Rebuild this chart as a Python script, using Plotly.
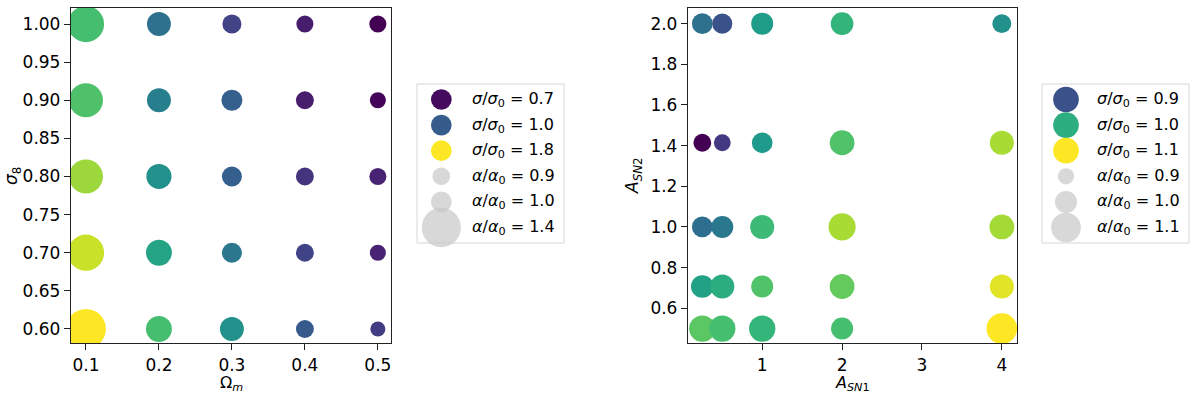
import numpy as np
import plotly.graph_objects as go

# ---------------- data ----------------
omega_m = [0.1, 0.2, 0.3, 0.4, 0.5]
sigma_8 = [1.0, 0.9, 0.8, 0.7, 0.6]
# rows follow sigma_8, columns follow omega_m
left_sigma_ratio = [
    [1.46, 1.09, 0.90, 0.76, 0.67],
    [1.48, 1.16, 1.01, 0.76, 0.68],
    [1.63, 1.24, 1.01, 0.84, 0.78],
    [1.71, 1.33, 1.12, 0.90, 0.78],
    [1.80, 1.46, 1.24, 0.99, 0.87],
]
left_alpha_ratio = [
    [1.35, 1.09, 0.95, 0.88, 0.88],
    [1.31, 1.09, 1.01, 0.91, 0.84],
    [1.31, 1.12, 0.98, 0.91, 0.88],
    [1.35, 1.14, 0.98, 0.91, 0.84],
    [1.41, 1.14, 1.09, 0.91, 0.80],
]

a_sn1 = [0.25, 0.5, 1, 2, 4]
a_sn2 = [2.0, 1.414, 1.0, 0.707, 0.5]
right_sigma_ratio = [
    [0.932, 0.900, 0.980, 1.007, 0.967],
    [0.833, 0.878, 0.977, 1.025, 1.065],
    [0.929, 0.940, 1.015, 1.065, 1.063],
    [0.985, 0.999, 1.025, 1.036, 1.089],
    [1.031, 1.020, 1.009, 1.020, 1.100],
]
right_alpha_ratio = [
    [0.98, 0.97, 1.00, 1.01, 0.95],
    [0.93, 0.91, 0.98, 1.04, 1.03],
    [0.98, 1.00, 1.03, 1.07, 1.04],
    [1.01, 1.03, 1.00, 1.04, 1.03],
    [1.06, 1.06, 1.06, 1.00, 1.11],
]

left_legend_sigma = [0.7, 1.0, 1.8]
left_legend_alpha = [0.9, 1.0, 1.4]
right_legend_sigma = [0.9, 1.0, 1.1]
right_legend_alpha = [0.9, 1.0, 1.1]

# ---------------- styling ----------------
W, H = 1200, 395
FONT = "DejaVu Sans"
FS = 16
GREY = "#c8c8c8"
CSCALE = "Viridis"
LEFT_CRANGE = (0.67, 1.80)
RIGHT_CRANGE = (0.833, 1.10)


def left_size(a):
    return 20.7 * np.exp(1.6 * (np.asarray(a, float) - 1.0))


def right_size(a):
    return 22.0 * np.exp(3.0 * (np.asarray(a, float) - 1.0))


def grid(xs, ys, vals):
    X, Y, V = [], [], []
    for i, yv in enumerate(ys):
        for j, xv in enumerate(xs):
            X.append(xv)
            Y.append(yv)
            V.append(vals[i][j])
    return X, Y, V


fig = go.Figure()

# left panel
lx, ly, lc = grid(omega_m, sigma_8, left_sigma_ratio)
_, _, la = grid(omega_m, sigma_8, left_alpha_ratio)
fig.add_trace(go.Scatter(
    x=lx, y=ly, mode="markers", xaxis="x", yaxis="y", showlegend=False,
    marker=dict(color=lc, colorscale=CSCALE, cmin=LEFT_CRANGE[0], cmax=LEFT_CRANGE[1],
                size=left_size(la), line=dict(width=0), opacity=1),
))

# right panel
rx, ry, rc = grid(a_sn1, a_sn2, right_sigma_ratio)
_, _, ra = grid(a_sn1, a_sn2, right_alpha_ratio)
fig.add_trace(go.Scatter(
    x=rx, y=ry, mode="markers", xaxis="x2", yaxis="y2", showlegend=False,
    marker=dict(color=rc, colorscale=CSCALE, cmin=RIGHT_CRANGE[0], cmax=RIGHT_CRANGE[1],
                size=right_size(ra), line=dict(width=0), opacity=1),
))

# ---------------- custom legends (overlay pixel axis) ----------------
row_y0, row_dy = 99.5, 25.6
TXT = dict(family=FONT, size=FS, color="black")
TICK = dict(family=FONT, size=17, color="black")


def add_legend(box_x0, box_x1, mark_x, text_x, sig_vals, alpha_vals, crange, size_fn, csize):
    fig.add_shape(type="rect", xref="x3", yref="y3", x0=box_x0, x1=box_x1, y0=84, y1=243,
                  line=dict(color="#d6d6d6", width=1), fillcolor="white", layer="below")
    ys_sig = [row_y0 + row_dy * k for k in range(len(sig_vals))]
    ys_alp = [row_y0 + row_dy * (k + len(sig_vals)) for k in range(len(alpha_vals))]
    fig.add_trace(go.Scatter(
        x=[mark_x] * len(sig_vals), y=ys_sig, mode="markers", xaxis="x3", yaxis="y3",
        showlegend=False, cliponaxis=False,
        marker=dict(color=sig_vals, colorscale=CSCALE, cmin=crange[0], cmax=crange[1],
                    size=csize, line=dict(width=0)),
    ))
    fig.add_trace(go.Scatter(
        x=[mark_x] * len(alpha_vals), y=ys_alp, mode="markers", xaxis="x3", yaxis="y3",
        showlegend=False, cliponaxis=False,
        marker=dict(color=GREY, size=size_fn(alpha_vals), line=dict(width=0)),
    ))
    for v, yy in zip(sig_vals, ys_sig):
        fig.add_annotation(x=text_x, y=yy, xref="x3", yref="y3", xanchor="left", yanchor="middle",
                           showarrow=False, text=f"<i>σ</i>/<i>σ</i><sub>0</sub> = {v:.1f}", font=TXT)
    for v, yy in zip(alpha_vals, ys_alp):
        fig.add_annotation(x=text_x, y=yy, xref="x3", yref="y3", xanchor="left", yanchor="middle",
                           showarrow=False, text=f"<i>α</i>/<i>α</i><sub>0</sub> = {v:.1f}", font=TXT)


add_legend(417, 564, 441.3, 470, left_legend_sigma, left_legend_alpha, LEFT_CRANGE, left_size, 20.7)
add_legend(1042, 1189, 1066, 1095, right_legend_sigma, right_legend_alpha, RIGHT_CRANGE, right_size, 25.7)

# axis titles
fig.add_annotation(x=231, y=383, xref="x3", yref="y3", showarrow=False, xanchor="center", yanchor="middle",
                   text="Ω<sub><i>m</i></sub>", font=TXT)
fig.add_annotation(x=12, y=176, xref="x3", yref="y3", showarrow=False, xanchor="center", yanchor="middle",
                   textangle=-90, text="<i>σ</i><sub>8</sub>", font=TICK)
fig.add_annotation(x=852, y=383, xref="x3", yref="y3", showarrow=False, xanchor="center", yanchor="middle",
                   text="<i>A</i><sub><i>SN</i>1</sub>", font=TXT)
fig.add_annotation(x=633, y=176, xref="x3", yref="y3", showarrow=False, xanchor="center", yanchor="middle",
                   textangle=-90, text="<i>A</i><sub><i>SN</i>2</sub>", font=TICK)

# ---------------- axes ----------------
ydom = [1 - 343 / H, 1 - 8 / H]
axis_common = dict(showline=True, linecolor="#222222", linewidth=1.3, mirror=True,
                   ticks="outside", ticklen=6, tickwidth=1.2, tickcolor="#222222",
                   showgrid=False, zeroline=False, automargin=False,
                   tickfont=TICK)

fig.update_layout(
    width=W, height=H, margin=dict(l=0, r=0, t=0, b=0),
    paper_bgcolor="white", plot_bgcolor="rgba(0,0,0,0)",
    xaxis=dict(domain=[71 / W, 391 / W], anchor="y", range=[0.0795, 0.518],
               tickvals=omega_m, ticktext=[f"{v:.1f}" for v in omega_m], **axis_common),
    yaxis=dict(domain=ydom, anchor="x", range=[0.5816, 1.021],
               tickvals=[0.60, 0.65, 0.70, 0.75, 0.80, 0.85, 0.90, 0.95, 1.00], tickformat=".2f",
               **axis_common),
    xaxis2=dict(domain=[688 / W, 1017 / W], anchor="y2", range=[0.071, 4.19],
                tickvals=[1, 2, 3, 4], **axis_common),
    yaxis2=dict(domain=ydom, anchor="x2", range=[0.429, 2.077],
                tickvals=[0.6, 0.8, 1.0, 1.2, 1.4, 1.6, 1.8, 2.0], tickformat=".1f",
                **axis_common),
    xaxis3=dict(domain=[0, 1], anchor="y3", range=[0, W], visible=False, fixedrange=True),
    yaxis3=dict(domain=[0, 1], anchor="x3", range=[H, 0], visible=False, fixedrange=True),
)

fig.write_html("out.html", config={"displayModeBar": False},
               post_script="document.body.style.margin='0px';document.body.style.padding='0px';"
                           "document.body.style.overflow='hidden';")
